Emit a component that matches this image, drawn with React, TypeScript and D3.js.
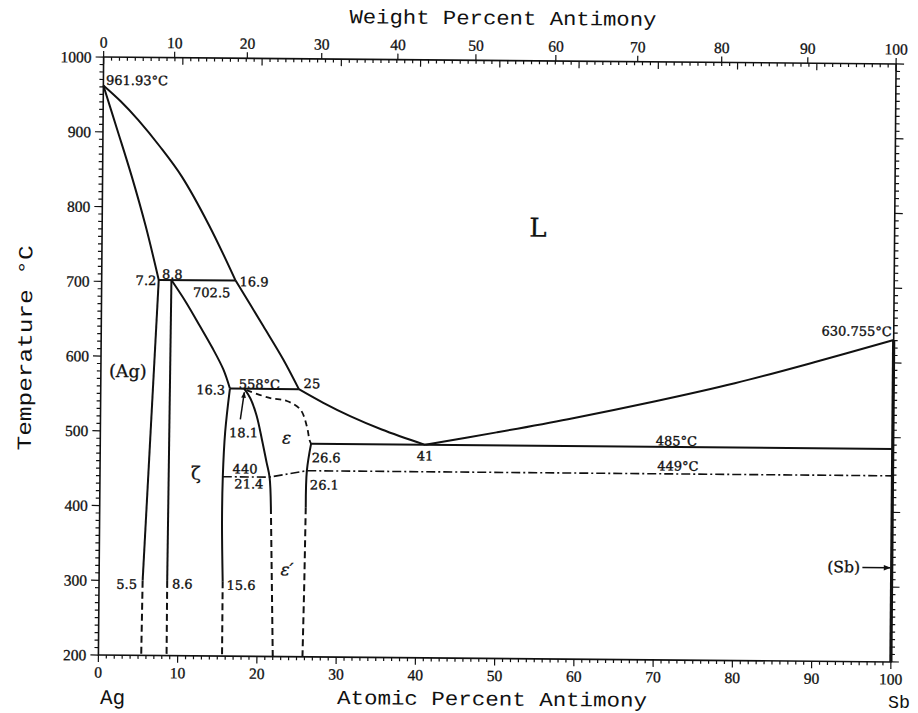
import React from "react";
import * as d3 from "d3";

// ---------- data (atomic % Sb, temperature °C) ----------
const atTickLabels = [0, 10, 20, 30, 40, 50, 60, 70, 80, 90, 100];
const wtTickLabels = [0, 10, 20, 30, 40, 50, 60, 70, 80, 90, 100];
const tempTickLabels = [200, 300, 400, 500, 600, 700, 800, 900, 1000];

const agLiquidus = [[0, 961.93], [2.2, 941], [4.45, 916], [7.2, 881], [10, 841], [13.5, 776], [16.9, 702.5]];
const agSolidus = [[0, 961.93], [1.8, 903], [3.67, 841], [5.5, 774], [7.2, 702.5]];
const agSolvus = [[7.2, 702.5], [5.5, 300]];
const agSolvusLow = [[5.5, 300], [5.4, 200]];
const zetaLeft = [[8.8, 702.5], [8.6, 300]];
const zetaLeftLow = [[8.6, 300], [8.6, 200]];
const zetaUpper = [[8.8, 702.5], [10.6, 674], [12.46, 641], [14.0, 613], [15.45, 583.5], [16.3, 558]];
const zetaRight = [[16.3, 558], [15.75, 500], [15.5, 440], [15.45, 380], [15.6, 300]];
const zetaRightLow = [[15.6, 300], [15.6, 200]];
const epsLeft = [[18.1, 558], [18.9, 545], [19.7, 522], [20.4, 490], [21.0, 460], [21.4, 440], [21.6, 400]];
const epsLeftLow = [[21.6, 400], [21.8, 300], [22.0, 200]];
const epsRightUpper = [[18.4, 556], [21.3, 546], [23.5, 542], [25.2, 531], [26.05, 508.5], [26.4, 490], [26.6, 485]];
const epsRight = [[26.6, 485], [26.1, 449], [26.0, 400]];
const epsRightLow = [[26.0, 400], [25.9, 300], [25.75, 200]];
const liquidusMid = [[16.9, 702.5], [20.44, 642], [23.0, 597.5], [25, 558]];
const liquidusLow = [[25, 558], [28.1, 540], [31.5, 522.5], [35.5, 505], [41, 485]];
const liquidusSb = [[41, 485], [50, 502.5], [59, 521], [70, 546], [80, 571], [90, 600], [100, 630.755]];
const peritectic702 = [[7.2, 702.5], [16.9, 702.5]];
const peritectic558 = [[16.3, 558], [25, 558]];
const eutectic485 = [[26.6, 485], [100, 485]];
const ordering449 = [[15.5, 440], [21.4, 440], [26.1, 449], [100, 449]];
const sbSolid = [[100, 200], [100, 630.755]];

const labelTexts = ["961.93°C", "7.2", "8.8", "702.5", "16.9", "16.3", "558°C", "25", "18.1", "440", "21.4", "26.6", "26.1", "41", "485°C", "449°C", "630.755°C", "5.5", "8.6", "15.6"];
const labelAt = [0.33, 6.9, 8.9, 13.9, 17.4, 15.7, 17.4, 25.6, 16.25, 18.3, 18.8, 26.7, 26.5, 41, 72.7, 72.9, 99.75, 4.8, 9.2, 16.1];
const labelT = [969, 701.5, 710, 686, 701, 556, 564, 565.5, 499, 450.5, 430.5, 466.5, 430, 470, 493, 459.5, 642, 295, 296, 295];
const labelAnchor = ["start", "end", "middle", "middle", "start", "end", "start", "start", "start", "middle", "middle", "start", "start", "middle", "middle", "middle", "end", "end", "start", "start"];

const phaseTexts = ["L", "(Ag)", "ε", "ζ", "ε′", "(Sb)"];
const phaseAt = [55, 3.4, 23.5, 12.1, 23.7, 96.0];
const phaseT = [777, 580, 493, 445, 317, 326];
const phaseAnchor = ["middle", "middle", "middle", "middle", "middle", "end"];
const phaseSize = [26, 17.5, 17, 18, 17, 15.5];
const phaseItalic = [false, false, true, false, true, false];

const arrow181 = [[17.65, 517], [18.12, 553]];
const arrowSb = [[96.3, 326], [99.8, 326]];

const SB_MASS = 121.76;
const AG_MASS = 107.868;
const wtToAt = (w: number) =>
  w >= 100 ? 100 : (100 * (w / SB_MASS)) / (w / SB_MASS + (100 - w) / AG_MASS);

export default function App() {
  const W = 918, H = 713;
  const x = d3.scaleLinear().domain([0, 100]).range([101, 893.5]);
  const y = d3.scaleLinear().domain([200, 1000]).range([658.5, 60.5]);
  const x0 = x(0), x1 = x(100), yTop = y(1000), yBot = y(200);

  const curve = d3.line<number[]>().x((d) => x(d[0])).y((d) => y(d[1])).curve(d3.curveCatmullRom.alpha(0.5));
  const straight = d3.line<number[]>().x((d) => x(d[0])).y((d) => y(d[1]));

  const solidCurves = [agLiquidus, agSolidus, zetaUpper, zetaRight, epsLeft, epsRight, liquidusMid, liquidusLow, liquidusSb];
  const solidStraight = [agSolvus, zetaLeft, peritectic702, peritectic558, eutectic485];
  const dashedCurves = [agSolvusLow, zetaLeftLow, zetaRightLow, epsLeftLow, epsRightLow];

  const minorAt = x.ticks(100);
  const minorT = y.ticks(80);
  const serif = "'DejaVu Serif', serif";
  const tickFont = "'Liberation Serif', serif";
  const mono = "'Liberation Mono', monospace";

  return (
    <svg width={W} height={H} style={{ position: "absolute", left: 0, top: 0, background: "#fff" }}>
      <defs>
        <marker id="ah" viewBox="0 0 10 10" refX="9" refY="5" markerWidth="7" markerHeight="6" orient="auto" markerUnits="userSpaceOnUse">
          <path d="M0,1 L10,5 L0,9 z" fill="#111" />
        </marker>
        <marker id="ah2" viewBox="0 0 10 10" refX="9" refY="5" markerWidth="10" markerHeight="7" orient="auto" markerUnits="userSpaceOnUse">
          <path d="M0,1 L10,5 L0,9 z" fill="#111" />
        </marker>
      </defs>
      <rect x={0} y={0} width={W} height={H} fill="#fff" />
      <g transform="rotate(0.5 497.25 359.5)">
        {/* frame */}
        <rect x={x0} y={yTop} width={x1 - x0} height={yBot - yTop} fill="none" stroke="#111" strokeWidth={1.6} />

        {/* bottom ticks (atomic %) */}
        {minorAt.map((t) => (
          <line key={"b" + t} x1={x(t)} x2={x(t)} y1={yBot} y2={yBot + (t % 10 === 0 ? 7 : 3.5)} stroke="#111" strokeWidth={1.2} />
        ))}
        {/* top ticks (atomic %, inward) */}
        {minorAt.map((t) => (
          <line key={"t" + t} x1={x(t)} x2={x(t)} y1={yTop} y2={yTop + (t % 10 === 0 ? 7 : 3.5)} stroke="#111" strokeWidth={1.2} />
        ))}
        {/* top weight % ticks outward */}
        {wtTickLabels.map((w) => (
          <line key={"w" + w} x1={x(wtToAt(w))} x2={x(wtToAt(w))} y1={yTop} y2={yTop - 6} stroke="#111" strokeWidth={1.2} />
        ))}
        {/* left and right temperature ticks */}
        {minorT.map((t) => (
          <g key={"T" + t}>
            <line x1={x0} x2={x0 - (t % 100 === 0 ? 8 : 4)} y1={y(t)} y2={y(t)} stroke="#111" strokeWidth={1.2} />
            <line x1={x1} x2={x1 + (t % 100 === 0 ? 8 : 4)} y1={y(t)} y2={y(t)} stroke="#111" strokeWidth={1.2} />
          </g>
        ))}

        {/* tick labels */}
        {atTickLabels.map((t) => (
          <text key={"bl" + t} x={x(t)} y={yBot + 17} textAnchor="middle" dominantBaseline="central" fontFamily={tickFont} fontSize={15.5} fill="#111" stroke="#111" strokeWidth={0.3}>{t}</text>
        ))}
        {wtTickLabels.map((w) => (
          <text key={"tl" + w} x={x(wtToAt(w))} y={yTop - 15} textAnchor="middle" dominantBaseline="central" fontFamily={tickFont} fontSize={15.5} fill="#111" stroke="#111" strokeWidth={0.3}>{w}</text>
        ))}
        {tempTickLabels.map((t) => (
          <text key={"ll" + t} x={x0 - 12} y={y(t)} textAnchor="end" dominantBaseline="central" fontFamily={tickFont} fontSize={15.5} fill="#111" stroke="#111" strokeWidth={0.3}>{t}</text>
        ))}

        {/* axis titles */}
        <text x={500} y={19} textAnchor="middle" dominantBaseline="central" fontFamily={mono} fontSize={20} textLength={307} lengthAdjust="spacingAndGlyphs" fill="#111">Weight Percent Antimony</text>
        <text x={495} y={700} textAnchor="middle" dominantBaseline="central" fontFamily={mono} fontSize={20} textLength={310} lengthAdjust="spacingAndGlyphs" fill="#111">Atomic Percent Antimony</text>
        <text x={0} y={0} transform={`translate(26,${352}) rotate(-90)`} textAnchor="middle" dominantBaseline="central" fontFamily={mono} fontSize={20} textLength={205} lengthAdjust="spacingAndGlyphs" fill="#111">Temperature °C</text>
        <text x={x0 + 2} y={702} textAnchor="start" dominantBaseline="central" fontFamily={mono} fontSize={21} fill="#111">Ag</text>

        {/* phase boundaries */}
        {solidCurves.map((d, i) => (
          <path key={"sc" + i} d={curve(d as any) || ""} fill="none" stroke="#111" strokeWidth={2} />
        ))}
        {solidStraight.map((d, i) => (
          <path key={"ss" + i} d={straight(d as any) || ""} fill="none" stroke="#111" strokeWidth={2} />
        ))}
        {dashedCurves.map((d, i) => (
          <path key={"dc" + i} d={straight(d as any) || ""} fill="none" stroke="#111" strokeWidth={2} strokeDasharray="7,4" />
        ))}
        <path d={curve(epsRightUpper as any) || ""} fill="none" stroke="#111" strokeWidth={1.8} strokeDasharray="6,4" />
        <path d={straight(ordering449 as any) || ""} fill="none" stroke="#111" strokeWidth={1.6} strokeDasharray="9,3,2,3" />
        <path d={straight(sbSolid as any) || ""} fill="none" stroke="#111" strokeWidth={3.2} />

        {/* arrows */}
        <path d={straight(arrow181 as any) || ""} fill="none" stroke="#111" strokeWidth={1.5} markerEnd="url(#ah)" />
        <path d={straight(arrowSb as any) || ""} fill="none" stroke="#111" strokeWidth={1.6} markerEnd="url(#ah2)" />

        {/* numeric labels */}
        {labelTexts.map((t, i) => (
          <text key={"lab" + i} x={x(labelAt[i])} y={y(labelT[i])} textAnchor={labelAnchor[i] as any} dominantBaseline="central" fontFamily={serif} fontSize={13} fill="#111" stroke="#111" strokeWidth={0.35}>{t}</text>
        ))}
        {/* phase labels */}
        {phaseTexts.map((t, i) => (
          <text key={"ph" + i} x={x(phaseAt[i])} y={y(phaseT[i])} textAnchor={phaseAnchor[i] as any} dominantBaseline="central" fontFamily={serif} fontSize={phaseSize[i]} fontStyle={phaseItalic[i] ? "italic" : "normal"} fill="#111" stroke="#111" strokeWidth={0.3}>{t}</text>
        ))}
      </g>
      <text x={888} y={703} textAnchor="start" dominantBaseline="central" fontFamily={mono} fontSize={19} textLength={22} lengthAdjust="spacingAndGlyphs" fill="#111">Sb</text>
    </svg>
  );
}
